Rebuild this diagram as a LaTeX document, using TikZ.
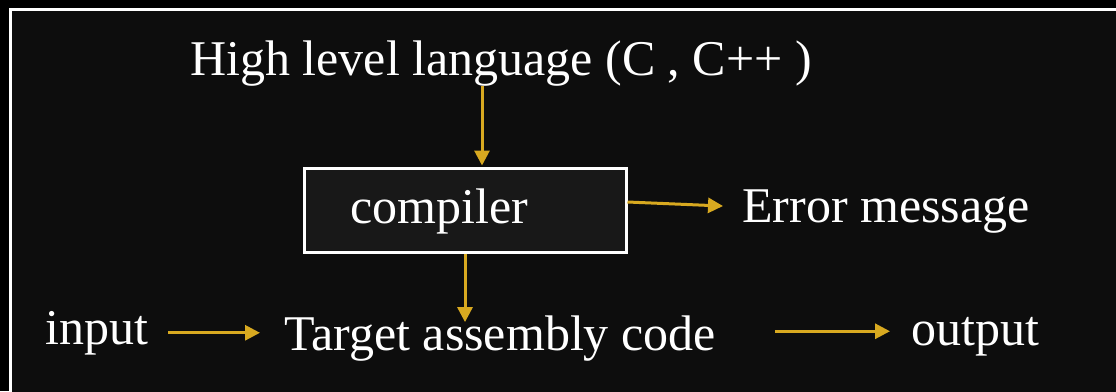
\documentclass[tikz,border=0pt]{standalone}
\usepackage{fontspec}
\setmainfont{Liberation Serif}
\usetikzlibrary{arrows.meta,calc}
\definecolor{gold}{HTML}{D8A920}
\definecolor{panel}{HTML}{0D0D0D}
\definecolor{boxfill}{HTML}{181818}
\tikzset{
  lbl/.style={text=white, inner sep=0pt, anchor=base west, font=\fontsize{50}{60}\selectfont},
  arr/.style={draw=gold, line width=3pt, -{Triangle[length=15pt,width=15pt]}},
  cbox/.style={draw=white, fill=boxfill, line width=3pt, minimum width=322pt, minimum height=84pt, inner sep=0pt}
}
\begin{document}
\begin{tikzpicture}[x=1pt,y=-1pt]
\useasboundingbox (0,0) rectangle (1116,391);
\fill[black] (0,0) rectangle (1116,391);
\draw[white, line width=3pt, fill=panel] (10,9) rectangle (1140,420);
\node[cbox] (comp) at (465,210) {};
\node[lbl] (top) at (190,75) {High level language (C , C++ )};
\node[lbl] (clab) at (350,223) {compiler};
\node[lbl] (err) at (742,222) {Error message};
\node[lbl] (in) at (45,344) {input};
\node[lbl] (tgt) at (284,350) {Target assembly code};
\node[lbl] (out) at (911,345) {output};
\coordinate (ha) at ($(comp.north)+(17,-1)$);
\draw[arr] (ha |- top.south) -- (ha);
\draw[arr] ($(comp.east)+(0,-8)$) -- ($(err.west)+(-19,-5)$);
\coordinate (tb) at ($(comp.south |- tgt.north)+(0,7)$);
\draw[arr] (comp.south) -- (tb);
\draw[arr] ($(in.east)+(20,0)$) -- ($(tgt.west |- in.east)+(-24,0)$);
\draw[arr] ($(out.west)+(-136,-5)$) -- ($(out.west)+(-21,-5)$);
\end{tikzpicture}
\end{document}
